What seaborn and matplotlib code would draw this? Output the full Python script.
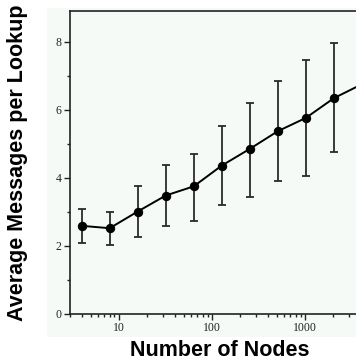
import numpy as np
import pandas as pd
import matplotlib
matplotlib.use("Agg")
import matplotlib.pyplot as plt
import seaborn as sns
from matplotlib.patches import Rectangle
from matplotlib.ticker import FixedLocator, FixedFormatter, LogLocator, NullFormatter

# Data
nodes = [4, 8, 16, 32, 64, 128, 256, 512, 1024, 2048, 4096]
mean_msgs = [2.59, 2.52, 3.01, 3.48, 3.75, 4.36, 4.85, 5.37, 5.76, 6.34, 6.75]
upper_msgs = [3.08, 3.01, 3.77, 4.37, 4.71, 5.51, 6.21, 6.84, 7.46, 7.95, 8.55]
lower_msgs = [2.10, 2.03, 2.26, 2.59, 2.74, 3.21, 3.45, 3.91, 4.04, 4.76, 5.00]
x_ticks = [10, 100, 1000]
x_tick_labels = ["10", "100", "1000"]
y_ticks = [0, 2, 4, 6, 8]

data = pd.DataFrame({"nodes": nodes, "mean": mean_msgs,
                     "upper": upper_msgs, "lower": lower_msgs})

sns.set_style("ticks")
plt.rcParams["font.family"] = ["Liberation Serif", "DejaVu Serif"]

W, H = 356, 361
fig = plt.figure(figsize=(W / 100, H / 100), dpi=100)
fig.patch.set_facecolor("white")

# light panel behind the plot and tick labels
bg = Rectangle((47 / W, 1 - 337 / H), 1 - 47 / W, (337 - 8) / H,
               transform=fig.transFigure, facecolor="#f5faf7",
               edgecolor="none", zorder=-10)
fig.patches.append(bg)

ax = fig.add_axes([70 / W, 1 - 314 / H, 300 / W, (314 - 11) / H])
ax.set_facecolor("#f5faf7")

yerr = [data["mean"] - data["lower"], data["upper"] - data["mean"]]
ax.errorbar(data["nodes"], data["mean"], yerr=yerr, fmt="none",
            ecolor="#2a2a2a", elinewidth=1.3, capsize=2.6, capthick=1.3,
            zorder=2)
sns.lineplot(data=data, x="nodes", y="mean", ax=ax, color="black",
             linewidth=1.4, marker="o", markersize=6,
             markeredgecolor="black", zorder=3)

ax.set_xscale("log")
ax.set_xlim(3, 5000)
ax.set_ylim(0, 8.9)

ax.xaxis.set_major_locator(FixedLocator(x_ticks))
ax.xaxis.set_major_formatter(FixedFormatter(x_tick_labels))
ax.xaxis.set_minor_locator(LogLocator(base=10, subs=np.arange(2, 10)))
ax.xaxis.set_minor_formatter(NullFormatter())
ax.yaxis.set_major_locator(FixedLocator(y_ticks))
ax.yaxis.set_minor_locator(FixedLocator([1, 3, 5, 7]))

ax.tick_params(axis="both", which="major", direction="out", length=4,
               width=1, labelsize=8.5, colors="#222222", pad=2)
ax.tick_params(axis="both", which="minor", direction="out", length=2.5,
               width=1, colors="#222222")

for side in ["left", "top", "bottom", "right"]:
    ax.spines[side].set_color("#222222")
    ax.spines[side].set_linewidth(1.2)

ax.set_xlabel("Number of Nodes", fontsize=15.5, fontweight="bold",
              color="black", family=["Liberation Sans", "DejaVu Sans"],
              labelpad=4)
ax.set_ylabel("Average Messages per Lookup", fontsize=15.5, fontweight="bold",
              color="black", family=["Liberation Sans", "DejaVu Sans"],
              labelpad=20)

fig.savefig("out.png", dpi=100, facecolor="white")
